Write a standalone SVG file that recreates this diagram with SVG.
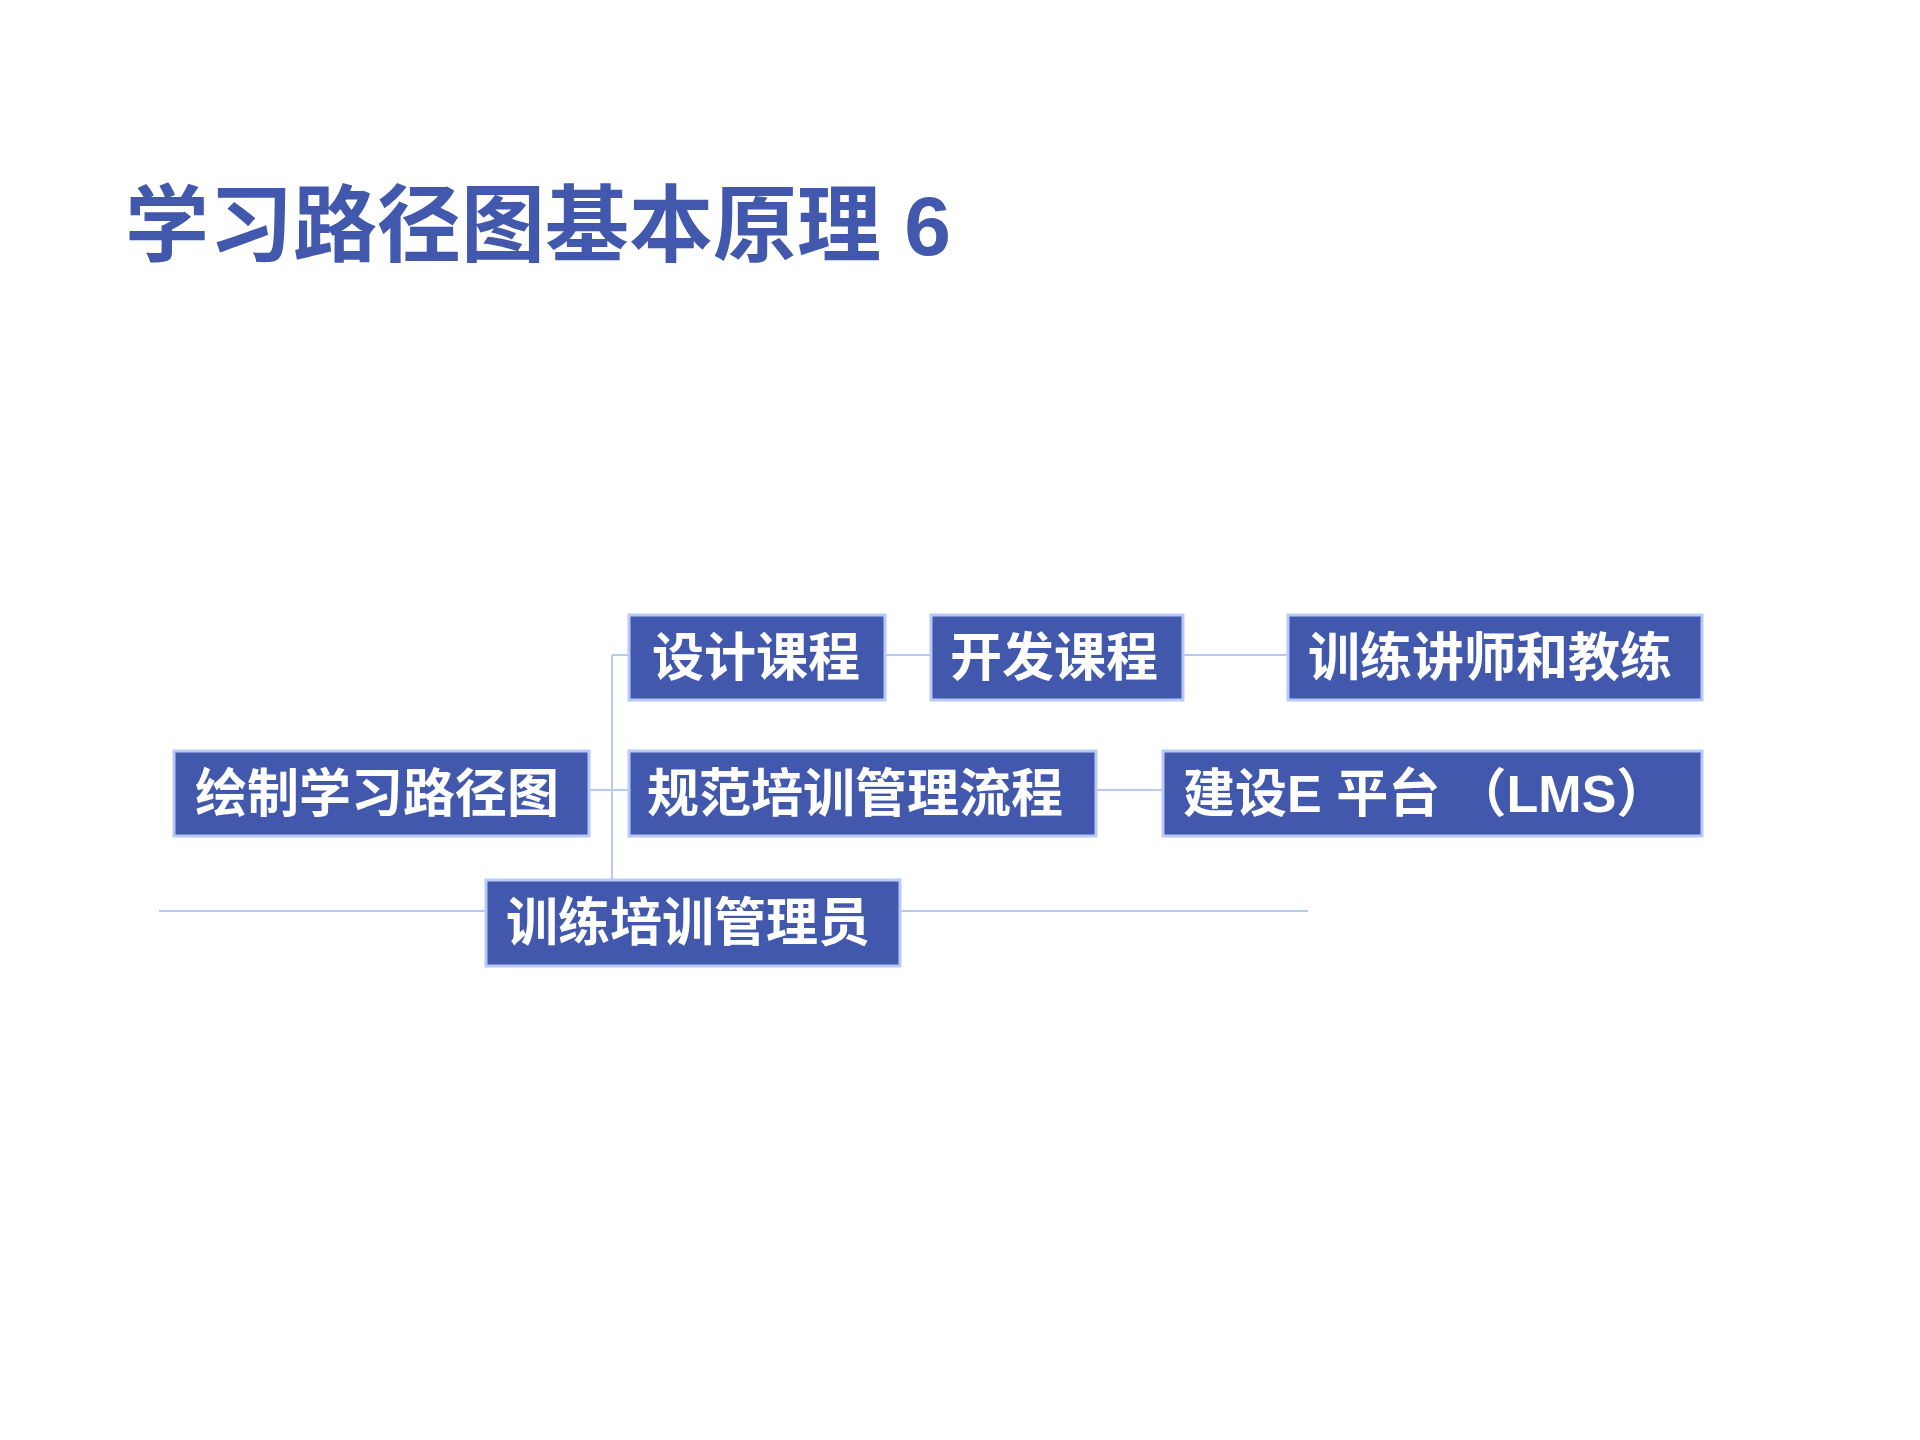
<svg xmlns="http://www.w3.org/2000/svg" width="1920" height="1440" viewBox="0 0 1920 1440">
<style>
.b{fill:#4258AD;stroke:#B8C9F8;stroke-width:3}
.t{fill:#fff;font-family:"Liberation Sans","Noto Sans CJK SC",sans-serif;font-weight:bold;font-size:52px}
.c{stroke:#B8C9F8;stroke-width:2;fill:none}
</style>
<rect width="1920" height="1440" fill="#fff"/>
<text x="125" y="255" fill="#4258AD" font-family="Liberation Sans,'Noto Sans CJK SC',sans-serif" font-weight="bold" font-size="84">学习路径图基本原理 6</text>
<g id="connectors">
<path class="c" d="M612 655V880M612 655H629M885 655H931M1183 655H1288M589 790H629M1096 790H1163M159 911H486M900 911H1308"/>
</g>
<g id="n1"><rect class="b" x="629" y="615" width="256" height="85"/><text class="t" x="652" y="676">设计课程</text></g>
<g id="n2"><rect class="b" x="931" y="615" width="252" height="85"/><text class="t" x="950" y="676">开发课程</text></g>
<g id="n3"><rect class="b" x="1288" y="615" width="414" height="85"/><text class="t" x="1308" y="676">训练讲师和教练</text></g>
<g id="n4"><rect class="b" x="174" y="751" width="415" height="85"/><text class="t" x="195" y="812">绘制学习路径图</text></g>
<g id="n5"><rect class="b" x="629" y="751" width="467" height="85"/><text class="t" x="647" y="812">规范培训管理流程</text></g>
<g id="n6"><rect class="b" x="1163" y="751" width="539" height="85"/><text class="t" x="1183" y="812">建设E 平台 （LMS）</text></g>
<g id="n7"><rect class="b" x="486" y="880" width="414" height="86"/><text class="t" x="506" y="941">训练培训管理员</text></g>
</svg>
